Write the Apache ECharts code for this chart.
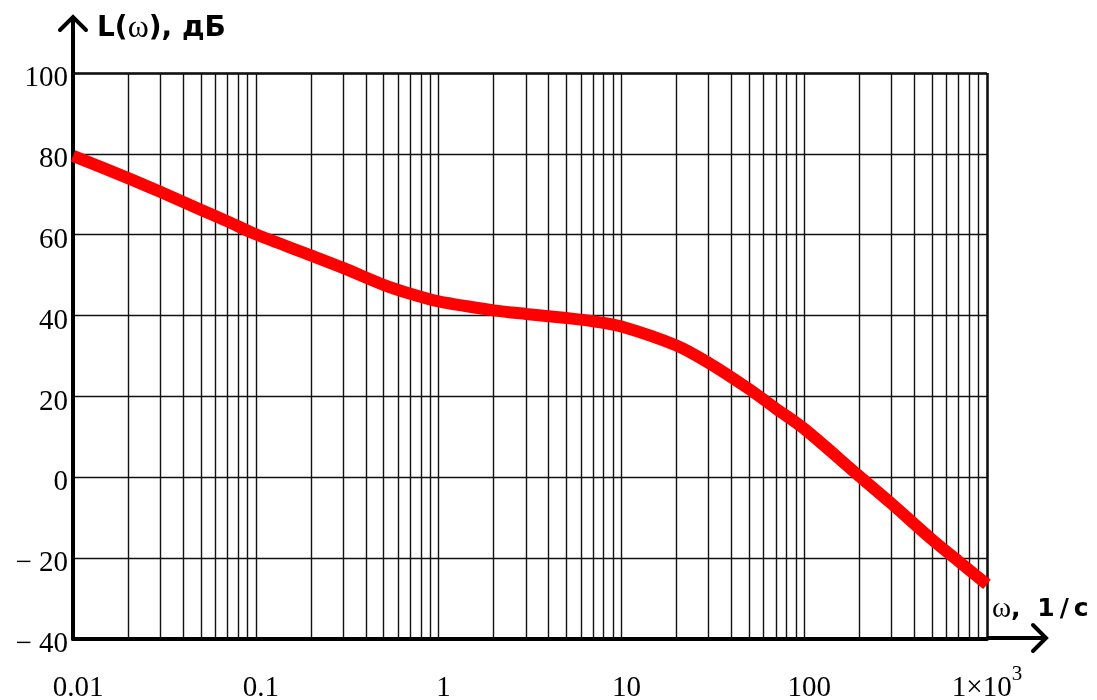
<!DOCTYPE html>
<html>
<head>
<meta charset="utf-8">
<script src="https://cdn.jsdelivr.net/npm/echarts/dist/echarts.min.js"></script>
<style>
html,body{margin:0;padding:0;background:#fff;}
#c{width:1097px;height:700px;}
</style>
</head>
<body>
<div id="c"></div>
<script>
// ---- data ----
const omega = [0.01, 0.02, 0.03, 0.05, 0.07, 0.1, 0.2, 0.3, 0.5, 0.7, 1, 2, 3, 5, 7, 10, 20, 30, 50, 70, 100, 200, 300, 500, 700, 1000];
const Ldb   = [79.5, 74.0, 70.6, 66.2, 63.3, 60.1, 54.9, 51.8, 47.6, 45.4, 43.5, 41.3, 40.4, 39.4, 38.6, 37.3, 32.6, 28.3, 21.8, 17.0, 12.0, 0.3, -6.5, -15.4, -20.8, -26.5];
const decades = [0.01, 0.1, 1, 10, 100, 1000];
const minorMultipliers = [2, 3, 4, 5, 6, 7, 8, 9];
const xTickLabels = ['0.01', '0.1', '1', '10', '100', '1×10³'];
const yMin = -40, yMax = 100, yStep = 20;

// ---- layout ----
const G = {left: 73, top: 73, right: 110, bottom: 61};
const W = 1097, H = 700;
const plotRight = W - G.right, plotBottom = H - G.bottom;

const gridValues = [];
decades.forEach((d, i) => {
  if (i > 0) gridValues.push(d);
  if (i < decades.length - 1) minorMultipliers.forEach(m => gridValues.push(d * m));
});

const serif = 'Liberation Serif';
const sans = 'DejaVu Sans';

const chart = echarts.init(document.getElementById('c'), null, {renderer: 'canvas'});
chart.setOption({
  animation: false,
  backgroundColor: '#fff',
  grid: {left: G.left, top: G.top, right: G.right, bottom: G.bottom, outerBoundsMode: 'none', containLabel: false},
  xAxis: {
    type: 'log', logBase: 10, min: decades[0], max: decades[decades.length - 1],
    axisLine: {show: true, onZero: false, lineStyle: {color: '#000', width: 4}},
    axisTick: {show: false},
    splitLine: {show: false},
    axisLabel: {
      margin: 25,
      color: '#000', fontFamily: serif, fontSize: 29,
      formatter: function (v) {
        const i = Math.round(Math.log10(v)) + 2;
        const t = xTickLabels[i];
        if (t === undefined) return '';
        if (t.indexOf('×10') >= 0) {
          const parts = t.split('×10');
          return '{b|' + parts[0] + '×10}{s|' + (parts[1] === '³' ? '3' : parts[1]) + '}';
        }
        return '{n|' + t + '}';
      },
      rich: {
        n: {fontFamily: serif, fontSize: 29, lineHeight: 48, color: '#000', padding: [0, 0, 0, 10]},
        b: {fontFamily: serif, fontSize: 29, lineHeight: 48, color: '#000'},
        s: {fontFamily: serif, fontSize: 21, lineHeight: 21, color: '#000', verticalAlign: 'top'}
      }
    }
  },
  yAxis: {
    type: 'value', min: yMin, max: yMax, interval: yStep,
    axisLine: {show: true, onZero: false, lineStyle: {color: '#000', width: 4}},
    axisTick: {show: false},
    splitLine: {show: true, lineStyle: {color: '#111', width: 1.4}},
    axisLabel: {
      margin: 5,
      color: '#000', fontFamily: serif, fontSize: 29,
      formatter: v => '{v|' + (v < 0 ? '\u2212 ' + Math.abs(v) : String(v)) + '}',
      rich: {
        v: {fontFamily: serif, fontSize: 29, color: '#000', padding: [11, 0, 0, 0]}
      }
    }
  },
  series: [
    {
      type: 'line', z: 1, silent: true,
      data: omega.map((w, i) => [w, Ldb[i]]),
      showSymbol: false,
      lineStyle: {opacity: 0, width: 0},
      markLine: {
        silent: true, symbol: ['none', 'none'], animation: false,
        label: {show: false},
        emphasis: {disabled: true},
        lineStyle: {color: '#111', width: 1.4, type: 'solid'},
        data: gridValues.map(v => ({xAxis: v, lineStyle: {color: '#111', width: v === 1000 ? 2.6 : 1.4, type: 'solid'}}))
          .concat([{yAxis: yMax, lineStyle: {color: '#111', width: 2.6, type: 'solid'}}])
      }
    },
    {
      type: 'line', z: 5, silent: true,
      data: omega.map((w, i) => [w, Ldb[i]]),
      showSymbol: false,
      smooth: 0.3,
      lineStyle: {color: '#ff0000', width: 12}
    }
  ],
  graphic: [
    {type: 'polyline', z: 100, shape: {points: [[G.left, G.top], [G.left, 17]]}, style: {stroke: '#000', lineWidth: 4, fill: null}},
    {type: 'polyline', z: 100, shape: {points: [[G.left - 13, 30], [G.left, 17], [G.left + 13, 30]]}, style: {stroke: '#000', lineWidth: 4, fill: null, lineCap: 'round', lineJoin: 'miter'}},
    {type: 'polyline', z: 100, shape: {points: [[plotRight, plotBottom - 1], [1046, plotBottom - 1]]}, style: {stroke: '#000', lineWidth: 4, fill: null}},
    {type: 'polyline', z: 100, shape: {points: [[1033, plotBottom - 14], [1046, plotBottom - 1], [1033, plotBottom + 12]]}, style: {stroke: '#000', lineWidth: 4, fill: null, lineCap: 'round', lineJoin: 'miter'}},
    {type: 'text', z: 100, x: 97, y: 29, style: {
      text: '{a|L(}{w|ω}{a|), дБ}',
      verticalAlign: 'middle',
      rich: {
        a: {fontFamily: sans, fontWeight: 'bold', fontSize: 28, fill: '#000'},
        w: {fontFamily: serif, fontSize: 32, fill: '#000'}
      }
    }},
    {type: 'text', z: 100, x: 992, y: 609, style: {
      text: '{w|ω}{a|,}{sp| }{a|1}{sl|/}{a|c}',
      verticalAlign: 'middle',
      rich: {
        a: {fontFamily: sans, fontWeight: 'bold', fontSize: 25, fill: '#000'},
        sp: {fontFamily: sans, fontWeight: 'bold', fontSize: 25, fill: '#000', padding: [0, 4, 0, 4]},
        sl: {fontFamily: sans, fontWeight: 'bold', fontSize: 25, fill: '#000', padding: [0, 5, 0, 5]},
        w: {fontFamily: serif, fontSize: 29, fill: '#000'}
      }
    }}
  ]
});
</script>
</body>
</html>
